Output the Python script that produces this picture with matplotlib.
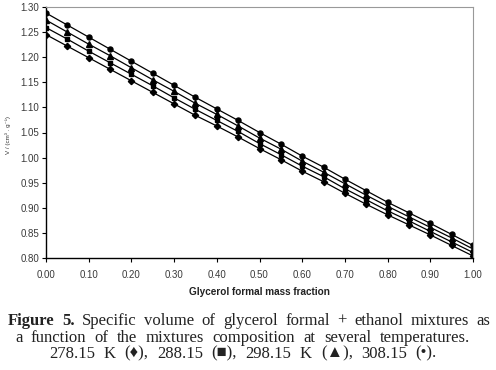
import matplotlib
matplotlib.use("Agg")
import matplotlib.pyplot as plt

x = [0.00, 0.05, 0.10, 0.15, 0.20, 0.25, 0.30, 0.35, 0.40, 0.45, 0.50,
     0.55, 0.60, 0.65, 0.70, 0.75, 0.80, 0.85, 0.90, 0.95, 1.00]
v_308 = [1.288, 1.264, 1.240, 1.216, 1.192, 1.168, 1.144, 1.120, 1.097, 1.074, 1.050,
         1.027, 1.003, 0.981, 0.957, 0.934, 0.911, 0.890, 0.869, 0.847, 0.825]
v_298 = [1.274, 1.250, 1.226, 1.203, 1.179, 1.155, 1.132, 1.108, 1.086, 1.063, 1.039,
         1.017, 0.993, 0.971, 0.948, 0.925, 0.903, 0.882, 0.861, 0.840, 0.818]
v_288 = [1.259, 1.236, 1.212, 1.189, 1.166, 1.143, 1.119, 1.096, 1.074, 1.052, 1.028,
         1.006, 0.983, 0.962, 0.938, 0.916, 0.894, 0.874, 0.853, 0.832, 0.811]
v_278 = [1.245, 1.222, 1.199, 1.176, 1.153, 1.130, 1.107, 1.084, 1.063, 1.041, 1.018,
         0.996, 0.973, 0.952, 0.929, 0.907, 0.886, 0.866, 0.846, 0.825, 0.804]
series = [(v_278, 'D', 3.2), (v_288, 's', 3.4), (v_298, '^', 4.0), (v_308, 'o', 3.6)]
yticks = [0.80, 0.85, 0.90, 0.95, 1.00, 1.05, 1.10, 1.15, 1.20, 1.25, 1.30]
xticks = [0.0, 0.1, 0.2, 0.3, 0.4, 0.5, 0.6, 0.7, 0.8, 0.9, 1.0]

fig = plt.figure(figsize=(4.96, 3.70), dpi=100)
ax = fig.add_axes([46/496, 1-258/370, (473-46)/496, (258-7)/370])

for vals, m, ms in series:
    ax.plot(x, vals, color='black', lw=0.9, marker=m, ms=ms, mfc='black', mec='black')

ax.set_xlim(0, 1.0)
ax.set_ylim(0.80, 1.30)
ax.set_xticks(xticks)
ax.set_xticklabels([f"{t:.2f}" for t in xticks])
ax.set_yticks(yticks)
ax.set_yticklabels([f"{t:.2f}" for t in yticks])
for lab in ax.get_xticklabels() + ax.get_yticklabels():
    lab.set_fontfamily('Liberation Sans')
    lab.set_fontsize(7)
    lab.set_color('#3a3a3a')
ax.tick_params(direction='out', length=3, width=0.8, color='black', pad=2)
ax.tick_params(axis='x', pad=6)
ax.spines['left'].set_color('black')
ax.spines['bottom'].set_color('black')
ax.spines['left'].set_linewidth(1.0)
ax.spines['bottom'].set_linewidth(1.0)
ax.spines['top'].set_color('#999999')
ax.spines['right'].set_color('#999999')

fig.text(259/496, 1-292/370, "Glycerol formal mass fraction", ha='center', va='center',
         fontfamily='Liberation Sans', fontweight='bold', fontsize=7.2, color='#222222')
fig.text(8/496, 1-135/370, "V / (cm\u00b3 . g\u207b\u00b9)", rotation=90, ha='center', va='center',
         fontfamily=['Liberation Sans', 'DejaVu Sans'], fontsize=4.5, color='#333333')

# Caption, justified word by word
cap_fs = 12
fig.canvas.draw()
renderer = fig.canvas.get_renderer()

line1 = [("Figure", 'bold'), ("5.", 'bold'), ("Specific", 'normal'), ("volume", 'normal'),
         ("of", 'normal'), ("glycerol", 'normal'), ("formal", 'normal'), ("+", 'normal'),
         ("ethanol", 'normal'), ("mixtures", 'normal'), ("as", 'normal')]
line2 = [(w, 'normal') for w in
         "a function of the mixtures composition at several temperatures.".split()]
line3 = [(w, 'normal') for w in
         "278.15 K (\u2666), 288.15 (\u25a0), 298.15 K (\u25b2), 308.15 (\u2022).".split()]


def justify(words, x0, x1, baseline):
    objs, widths = [], []
    for w, wt in words:
        t = fig.text(0, 1 - baseline / 370, w, fontfamily=['Liberation Serif', 'DejaVu Sans'],
                     fontweight=wt, fontsize=cap_fs, va='baseline', ha='left', color='#222222')
        objs.append(t)
        widths.append(t.get_window_extent(renderer).width)
    gap = (x1 - x0 - sum(widths)) / (len(words) - 1)
    cur = x0
    for t, wd in zip(objs, widths):
        t.set_x(cur / 496)
        cur += wd + gap


justify(line1, 8, 490, 325)
justify(line2, 15, 470, 341.5)
justify(line3, 49, 437, 357.5)

fig.savefig("out.png", dpi=100)
